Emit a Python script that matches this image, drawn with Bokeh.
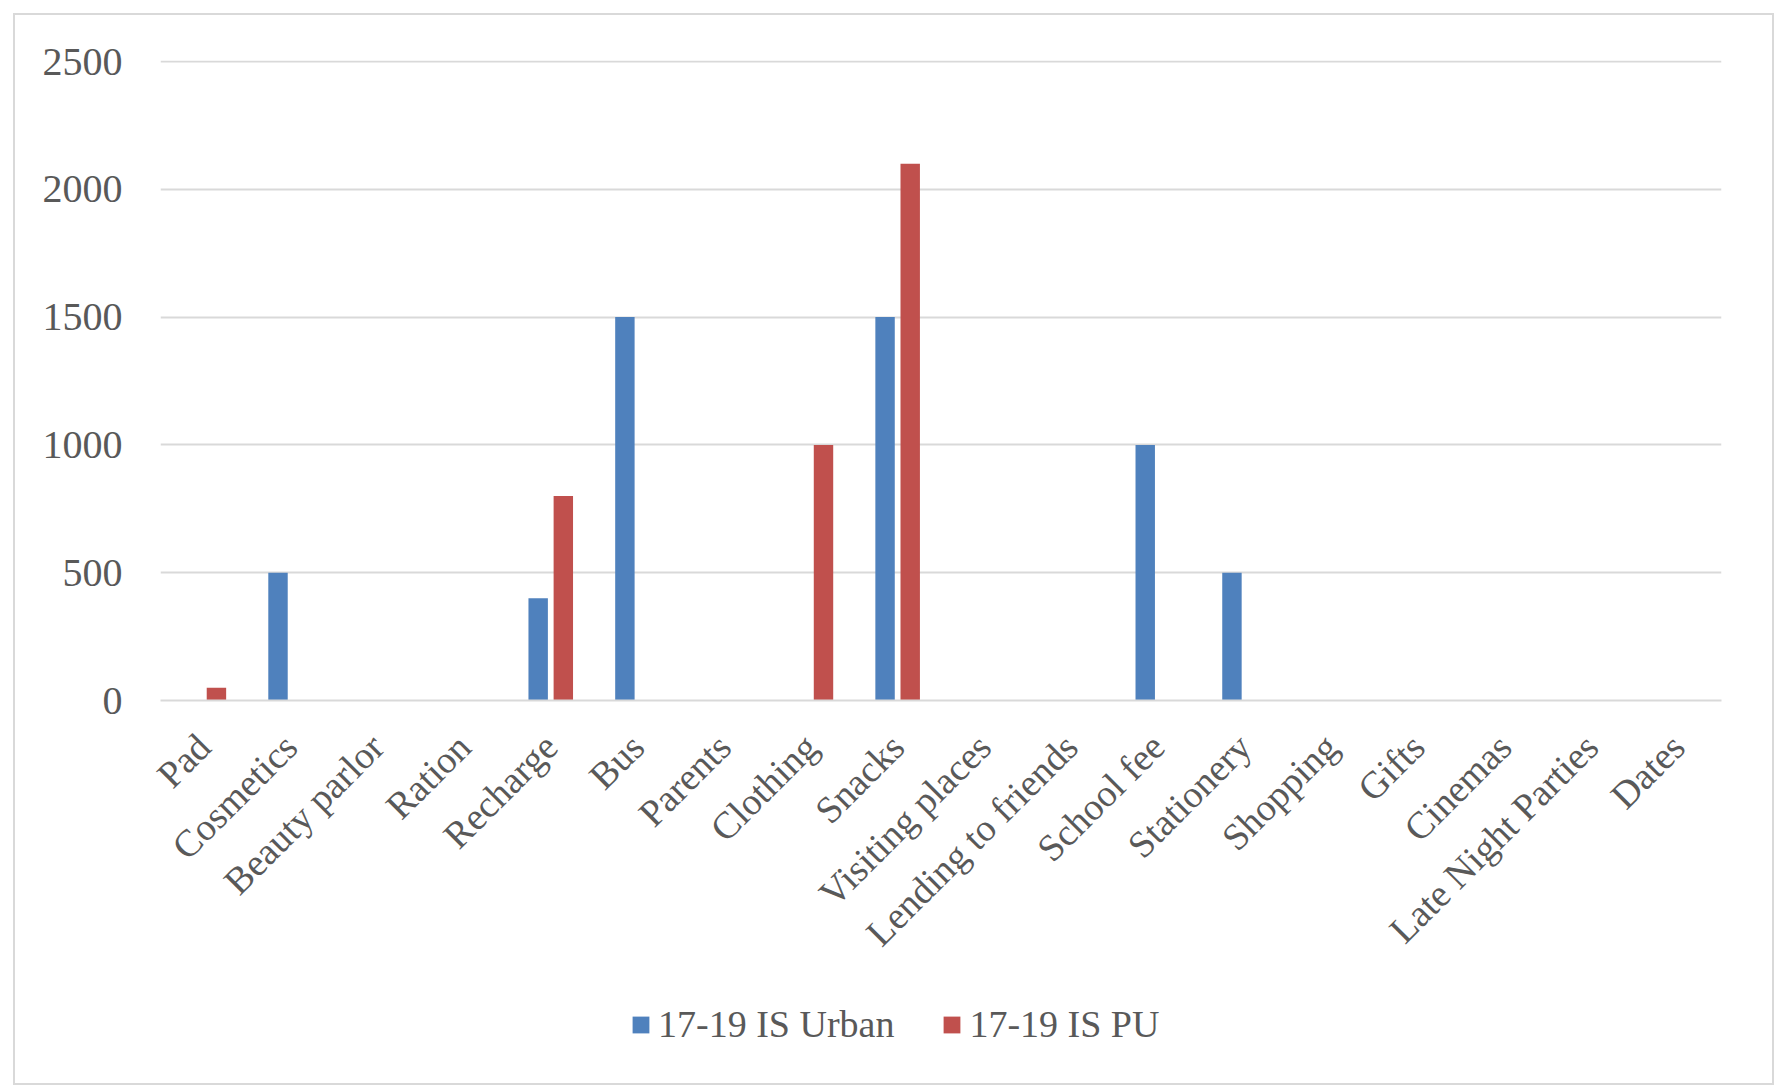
import math
from bokeh.plotting import figure
from bokeh.layouts import column
from bokeh.models import (FactorRange, Range1d, FixedTicker, Legend, LegendItem)
from bokeh.transform import dodge
from bokeh.embed import file_html
from bokeh.resources import INLINE

categories = ["Pad", "Cosmetics", "Beauty parlor", "Ration", "Recharge", "Bus",
              "Parents", "Clothing", "Snacks", "Visiting places",
              "Lending to friends", "School fee", "Stationery", "Shopping",
              "Gifts", "Cinemas", "Late Night Parties", "Dates"]
urban = [0, 500, 0, 0, 400, 1500, 0, 0, 1500, 0, 0, 1000, 500, 0, 0, 0, 0, 0]
pu = [50, 0, 0, 0, 800, 0, 0, 1000, 2100, 0, 0, 0, 0, 0, 0, 0, 0, 0]
y_ticks = [0, 500, 1000, 1500, 2000, 2500]
series_names = ["17-19 IS Urban", "17-19 IS PU"]

FONT = "Liberation Serif"
TXT = "#595959"
GRID = "#d9d9d9"
BLUE = "#4f81bd"
RED = "#c0504d"

data = dict(cat=categories, urban=urban, pu=pu)

p = figure(x_range=FactorRange(*categories), y_range=Range1d(0, 2504),
           width=1757, height=960, output_backend="svg", toolbar_location=None,
           min_border_left=145, min_border_right=51, min_border_top=45,
           min_border_bottom=275)

r1 = p.vbar(x=dodge("cat", -0.145, range=p.x_range), top="urban", width=0.224,
            source=data, fill_color=BLUE, line_color=None)
r2 = p.vbar(x=dodge("cat", 0.145, range=p.x_range), top="pu", width=0.224,
            source=data, fill_color=RED, line_color=None)

p.outline_line_color = None
p.xgrid.grid_line_color = None
p.ygrid.grid_line_color = GRID
p.ygrid.grid_line_width = 2

p.yaxis.ticker = FixedTicker(ticks=y_ticks)
p.yaxis.axis_line_color = None
p.yaxis.major_tick_line_color = None
p.yaxis.minor_tick_line_color = None
p.yaxis.major_label_text_font = FONT
p.yaxis.major_label_text_font_size = "40px"
p.yaxis.major_label_text_color = TXT
p.yaxis.major_label_standoff = 32

p.xaxis.axis_line_color = GRID
p.xaxis.axis_line_width = 2
p.xaxis.major_tick_line_color = None
p.xaxis.minor_tick_line_color = None
p.xaxis.major_label_orientation = math.pi / 4
p.xaxis.major_label_text_font = FONT
p.xaxis.major_label_text_font_size = "38px"
p.xaxis.major_label_text_color = TXT
p.xaxis.major_label_standoff = 34

# legend strip below the chart (same series colours; swatch bars sit off-range)
p2 = figure(width=1757, height=108, output_backend="svg", toolbar_location=None,
            x_range=Range1d(0, 1), y_range=Range1d(0, 1),
            x_axis_location=None, y_axis_location=None,
            min_border_left=0, min_border_right=0, min_border_top=0,
            min_border_bottom=0)
p2.outline_line_color = None
p2.xgrid.grid_line_color = None
p2.ygrid.grid_line_color = None
k1 = p2.vbar(x=[-10], bottom=[-10], top=[-9], width=1, fill_color=BLUE,
             line_color=None)
k2 = p2.vbar(x=[-10], bottom=[-10], top=[-9], width=1, fill_color=RED,
             line_color=None)

legend = Legend(items=[LegendItem(label=series_names[0], renderers=[k1]),
                       LegendItem(label=series_names[1], renderers=[k2])],
                orientation="horizontal", location=(470, 37),
                border_line_color=None, background_fill_alpha=0,
                glyph_width=21, glyph_height=21, label_text_font=FONT,
                label_text_font_size="38px", label_text_color=TXT,
                spacing=47, label_standoff=7, padding=0, margin=0)
p2.add_layout(legend)

layout = column(p, p2, spacing=0)
layout.margin = (13, 0, 0, 13)
layout.styles = {"border": "2px solid #d9d9d9"}

open("out.html", "w").write(file_html(layout, INLINE))
